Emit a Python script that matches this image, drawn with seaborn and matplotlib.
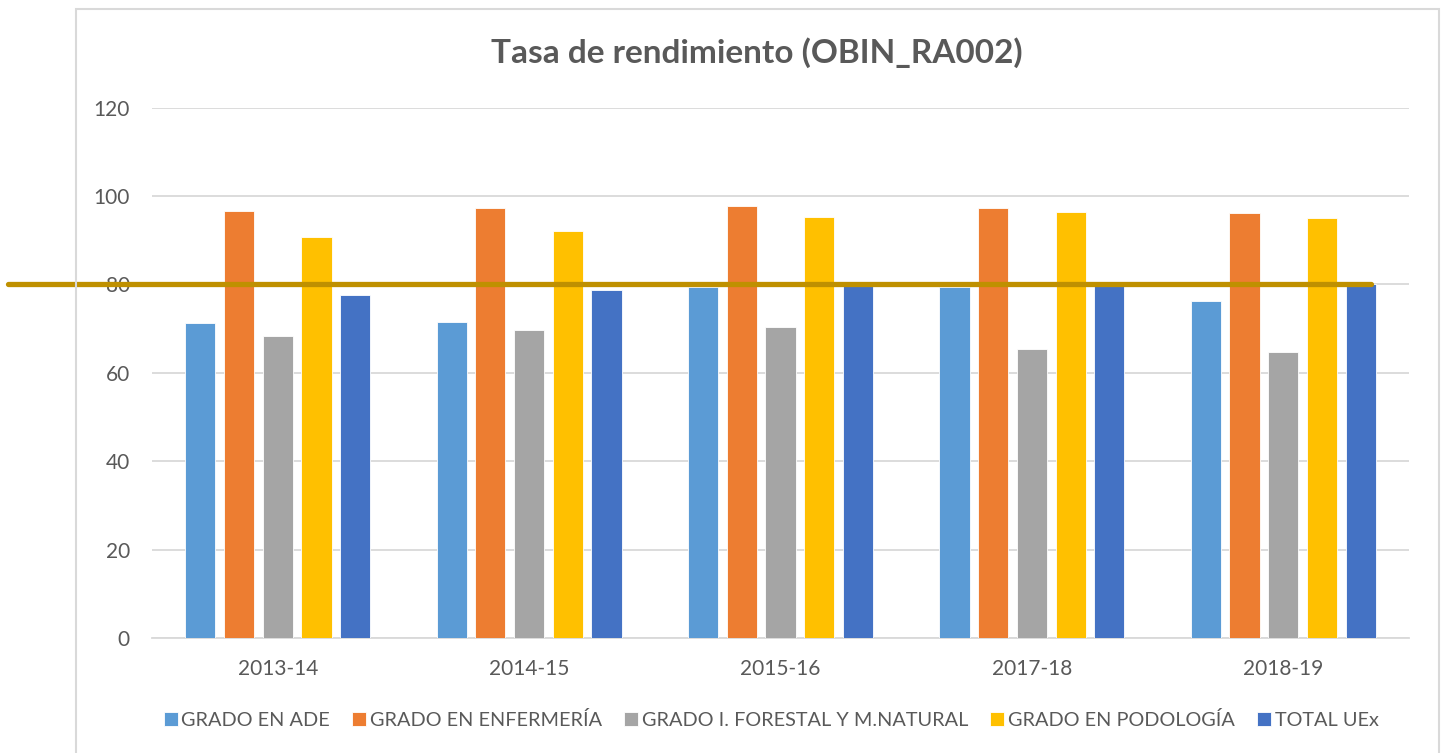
import numpy as np
import pandas as pd
import matplotlib
matplotlib.use("Agg")
import matplotlib.pyplot as plt
from matplotlib.patches import Rectangle
import seaborn as sns

# Academic years and degree series
cursos = ["2013-14", "2014-15", "2015-16", "2017-18", "2018-19"]
series = ["GRADO EN ADE", "GRADO EN ENFERMERÍA", "GRADO I. FORESTAL Y M.NATURAL",
          "GRADO EN PODOLOGÍA", "TOTAL UEx"]

ade = [71.3, 71.6, 79.5, 79.5, 76.3]
enfermeria = [96.6, 97.4, 97.8, 97.2, 96.1]
forestal = [68.4, 69.8, 70.4, 65.5, 64.8]
podologia = [90.7, 92.1, 95.2, 96.5, 95.1]
total_uex = [77.6, 78.7, 79.6, 80.4, 80.0]

objetivo = 80
yticks = [0, 20, 40, 60, 80, 100, 120]

colores = ["#5B9BD5", "#ED7D31", "#A5A5A5", "#FFC000", "#4472C4"]
color_objetivo = "#BF9000"
gris_texto = "#595959"
gris_rejilla = "#D9D9D9"

valores = [ade, enfermeria, forestal, podologia, total_uex]
df = pd.DataFrame({
    "curso": np.repeat([cursos], len(series), axis=0).ravel(),
    "serie": np.repeat(series, len(cursos)),
    "tasa": np.concatenate(valores),
})

sns.set_theme(style="white")
plt.rcParams["font.family"] = ["Lato", "DejaVu Sans"]

fig = plt.figure(figsize=(14.45, 7.53), dpi=100)
ax = fig.add_axes([152 / 1445, 1 - 638 / 753, (1409 - 152) / 1445, (638 - 107.7) / 753])

sns.barplot(data=df, x="curso", y="tasa", hue="serie", order=cursos, hue_order=series,
            palette=colores, width=0.77, gap=0.22, saturation=1, errorbar=None,
            edgecolor="white", linewidth=0.6, ax=ax, legend=True, zorder=3)

ax.set_ylim(0, 120)
ax.set_yticks(yticks)
ax.set_xlim(-0.5, len(cursos) - 0.5)
ax.yaxis.grid(True, color=gris_rejilla, linewidth=1.3, zorder=0)
ax.set_axisbelow(True)
for side in ["top", "right", "left"]:
    ax.spines[side].set_visible(False)
ax.spines["bottom"].set_color(gris_rejilla)
ax.spines["bottom"].set_linewidth(1.3)
ax.set_xlabel("")
ax.set_ylabel("")
ax.tick_params(axis="y", length=0, pad=16, labelsize=15, labelcolor=gris_texto)
ax.tick_params(axis="x", length=0, pad=15, labelsize=15, labelcolor=gris_texto)

# Target reference line at 80
ax.axhline(objetivo, xmin=(8 - 152) / 1257, xmax=(1371 - 152) / 1257,
           color=color_objetivo, linewidth=3.8, clip_on=False, zorder=5)

fig.text(757 / 1445, 1 - 63 / 753, "Tasa de rendimiento (OBIN_RA002)",
         ha="center", va="baseline", fontsize=24, fontweight="bold", color=gris_texto)

handles, labels = ax.get_legend_handles_labels()
ax.get_legend().remove()
fig.legend(handles, labels, loc="center", bbox_to_anchor=(771 / 1445, 1 - 720 / 753),
           ncol=5, frameon=False, fontsize=14.3, labelcolor=gris_texto,
           handlelength=0.7, handleheight=0.7, handletextpad=0.2, columnspacing=1.1)

# Chart frame
fig.patches.append(Rectangle((76 / 1445, -0.02), (1439 - 76) / 1445, 1.02 - 9 / 753,
                             transform=fig.transFigure, fill=False,
                             edgecolor=gris_rejilla, linewidth=1.5))

fig.savefig("out.png", dpi=100)
